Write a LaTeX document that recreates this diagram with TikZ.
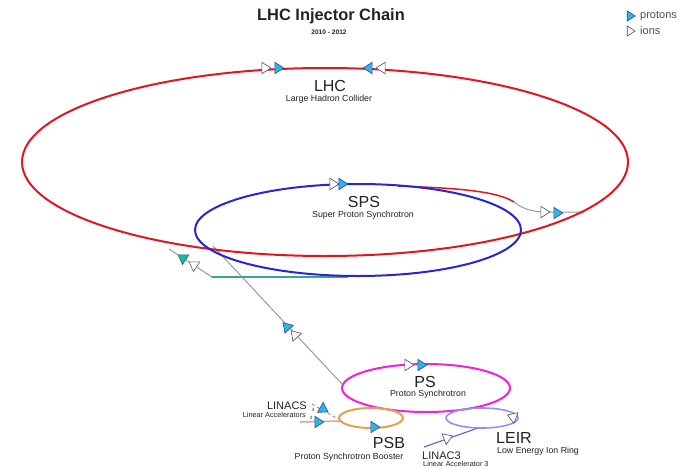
\documentclass[tikz,border=0pt]{standalone}
\usepackage{fontspec}
\setmainfont{Liberation Sans}
\usetikzlibrary{shapes.geometric}
\definecolor{lhcred}{HTML}{E3161E}
\definecolor{spsblue}{HTML}{2626D6}
\definecolor{psmag}{HTML}{EE22DD}
\definecolor{psborange}{HTML}{E0A24E}
\definecolor{leirblue}{HTML}{8A96F0}
\definecolor{linacthree}{HTML}{6A6AE0}
\definecolor{linactwo}{HTML}{F0A080}
\definecolor{linacfour}{HTML}{E07888}
\definecolor{tealline}{HTML}{3AA590}
\definecolor{greyline}{HTML}{9A9A9A}
\definecolor{protfill}{HTML}{2EB4E6}
\definecolor{protedge}{HTML}{2A4A9A}
\definecolor{ionedge}{HTML}{4A4A7A}
\definecolor{tealfill}{HTML}{20B8A8}
\definecolor{textgrey}{HTML}{222222}
\tikzset{
  ring/.style={line width=2pt},
  tri/.style={isosceles triangle, isosceles triangle apex angle=65, minimum size=9pt, inner sep=0pt, line width=0.6pt},
  proton/.style={tri, fill=protfill, draw=protedge},
  ion/.style={tri, fill=white, draw=ionedge},
  tealprot/.style={tri, fill=tealfill, draw=tealfill!60!black},
  big/.style={font=\fontsize{16}{16}\selectfont, text=textgrey, inner sep=0pt},
  sub/.style={font=\fontsize{8.8}{8.8}\selectfont, text=textgrey, inner sep=0pt},
  mid/.style={font=\fontsize{11}{11}\selectfont, text=textgrey, inner sep=0pt},
  tiny/.style={font=\fontsize{7.3}{7.3}\selectfont, text=textgrey, inner sep=0pt},
}
\begin{document}
\begin{tikzpicture}[x=1pt,y=-1pt]
\useasboundingbox (0,0) rectangle (692,468);
% title
\node[font=\fontsize{16.4}{16.4}\selectfont\bfseries, text=textgrey, inner sep=0pt] (title) at (331,16) {LHC Injector Chain};
\node[font=\fontsize{6.6}{6.6}\selectfont\bfseries, text=textgrey, inner sep=0pt] (years) at (329,32) {2010 - 2012};
% legend
\node[proton, minimum size=8pt] (legp) at (630,16) {};
\node[anchor=west, font=\fontsize{11}{11}\selectfont, text=textgrey!80, inner sep=0pt] (legpt) at (640,16) {protons};
\node[ion, minimum size=8pt] (legi) at (630,31) {};
\node[anchor=west, font=\fontsize{11}{11}\selectfont, text=textgrey!80, inner sep=0pt] (legit) at (640,31) {ions};

% rings
\coordinate (lhcc) at (325,162);
\coordinate (spsc) at (358,230);
\coordinate (psc) at (426,388);
\coordinate (psbc) at (371,418);
\coordinate (leirc) at (482,418);

% transfer lines (drawn first)
\coordinate (psout) at (342,384);
\coordinate (spsin) at (213,246);
\draw[greyline, line width=1pt] (psout) -- (spsin);
\coordinate (ti2a) at (169,249);
\coordinate (ti2b) at (212,277);
\coordinate (ti2c) at (348,277);
\draw[greyline, line width=1pt] (ti2a) -- (ti2b);
\draw[tealline, line width=1.5pt] (ti2b) -- (ti2c);
\coordinate (ti8a) at (398,186);
\coordinate (ti8b) at (514,202);
\coordinate (ti8c) at (584,212);
\draw[lhcred, line width=1.5pt] (ti8a) .. controls (450,188) and (495,190) .. (ti8b);
\draw[greyline, line width=1pt] (ti8b) .. controls (524,210) and (535,212) .. (545,212) -- (ti8c);
\coordinate (l2a) at (300,422);
\coordinate (l2b) at (340,421);
\draw[linactwo, line width=1.5pt] (l2a) -- (l2b);
\coordinate (l4a) at (312,404);
\coordinate (l4b) at (338,419);
\draw[linacfour, line width=1pt, dashed] (l4a) -- (l4b);
\coordinate (l3a) at (424,447);
\coordinate (l3b) at (478,428);
\draw[linacthree, line width=1.2pt] (l3a) -- (l3b);

\draw[ring, lhcred] (lhcc) ellipse [x radius=303pt, y radius=94pt];
\draw[ring, spsblue] (spsc) ellipse [x radius=163pt, y radius=46pt];
\draw[ring, psmag] (psc) ellipse [x radius=84pt, y radius=24pt];
\draw[ring, psborange] (psbc) ellipse [x radius=32pt, y radius=10pt];
\draw[ring, leirblue, line width=1.6pt] (leirc) ellipse [x radius=36pt, y radius=10pt];

% labels
\node[big] (lhcl) at (330,86) {LHC};
\node[sub] (lhcs) at (329,99) {Large Hadron Collider};
\node[big] (spsl) at (364,202) {SPS};
\node[sub] (spss) at (363,215) {Super Proton Synchrotron};
\node[big] (psl) at (425,382) {PS};
\node[sub] (pss) at (428,394) {Proton Synchrotron};
\node[big] (psbl) at (389,443) {PSB};
\node[sub] (psbs) at (349,457) {Proton Synchrotron Booster};
\node[big, anchor=west] (leirl) at (496,438) {LEIR};
\node[sub, anchor=west] (leirs) at (497,451) {Low Energy Ion Ring};
\node[mid, anchor=west] (l3l) at (422,456) {LINAC3};
\node[tiny, anchor=west] (l3s) at (423,464) {Linear Accelerator 3};
\node[mid, anchor=east] (lnl) at (307,406) {LINACS};
\node[tiny, anchor=east] (lns) at (306,415) {Linear Accelerators};
\node[font=\fontsize{4.5}{4.5}\selectfont, text=textgrey, inner sep=0pt] (n4) at (313,410) {4};
\node[font=\fontsize{4.5}{4.5}\selectfont, text=textgrey, inner sep=0pt] (n2) at (311,418) {2};

% beam arrows
\node[ion] (lhc1) at (265,68) {};
\node[proton] (lhc2) at (278,68) {};
\node[proton, rotate=180] (lhc3) at (369,68) {};
\node[ion, rotate=180] (lhc4) at (382,68) {};
\node[ion] (sps1) at (333,184) {};
\node[proton] (sps2) at (342,184) {};
\node[ion] (ti81) at (544,212) {};
\node[proton] (ti82) at (557,213) {};
\node[tealprot, rotate=147] (ti21) at (183,258) {};
\node[ion, draw=greyline!60!black, rotate=147] (ti22) at (194,265) {};
\node[proton, rotate=133] (tt1) at (287,327) {};
\node[ion, rotate=133] (tt2) at (295,335) {};
\node[ion] (ps1) at (408,365) {};
\node[proton] (ps2) at (421,365) {};
\node[proton] (psb1) at (374,427) {};
\node[proton] (l2p) at (318,422) {};
\node[proton, rotate=-30] (l4p) at (323,409) {};
\node[ion, rotate=21] (l3i) at (447,438) {};
\node[ion, rotate=160] (leiri) at (513,417) {};
\end{tikzpicture}
\end{document}
